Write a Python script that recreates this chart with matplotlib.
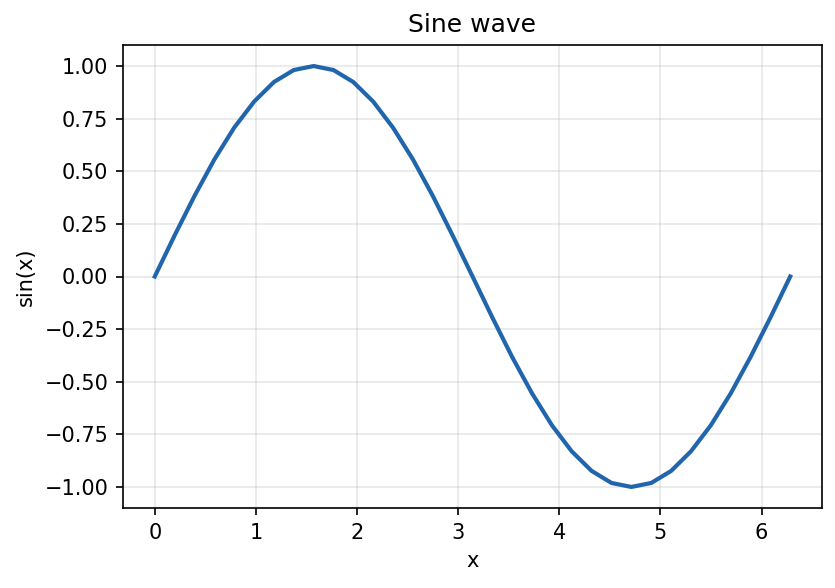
import matplotlib
matplotlib.use("Agg")
import matplotlib.pyplot as plt

x_vals = [0.0, 0.196, 0.393, 0.589, 0.785, 0.982, 1.178, 1.374, 1.571, 1.767, 1.963, 2.160, 2.356, 2.553, 2.749, 2.945,
          3.142, 3.338, 3.534, 3.731, 3.927, 4.123, 4.320, 4.516, 4.712, 4.909, 5.105, 5.301, 5.498, 5.694, 5.890, 6.087, 6.283]
y_vals = [0.0, 0.195, 0.383, 0.556, 0.707, 0.831, 0.924, 0.981, 1.0, 0.981, 0.924, 0.831, 0.707, 0.556, 0.383, 0.195,
          0.0, -0.195, -0.383, -0.556, -0.707, -0.831, -0.924, -0.981, -1.0, -0.981, -0.924, -0.831, -0.707, -0.556, -0.383, -0.195, 0.0]

fig = plt.figure(figsize=(835/150, 588/150), dpi=150)
ax = fig.add_axes([123/835, 1-508/588, (822-123)/835, (508-45)/588])
ax.plot(x_vals, y_vals, color="#2166ac", linewidth=2)
ax.set_title("Sine wave")
ax.set_xlabel("x")
ax.set_ylabel("sin(x)")
ax.grid(True, alpha=0.3)
fig.savefig("out.png", dpi=150)
